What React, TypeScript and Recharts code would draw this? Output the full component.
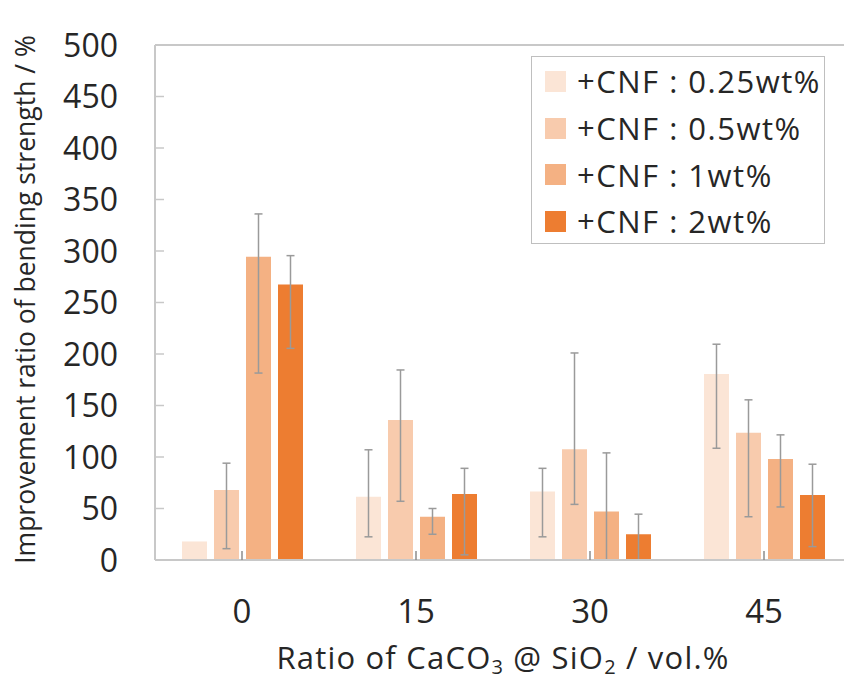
import { BarChart, Bar, XAxis, YAxis, ErrorBar, Legend, ReferenceLine } from 'recharts';

const FONT = '"Open Sans", "Liberation Sans", sans-serif';
const TEXT = '#262626';
const AXIS = '#c8c8c8';

// x categories: ratio of CaCO3@SiO2 (vol.%)
const categories = ['0', '15', '30', '45'];
const seriesNames = ['+CNF : 0.25wt%', '+CNF : 0.5wt%', '+CNF : 1wt%', '+CNF : 2wt%'];
const seriesColors = ['#FBE5D6', '#F8CBAD', '#F4B183', '#ED7D31'];

// bar heights (%)
const cnf025 = [18, 61.5, 66.5, 180.5];
const cnf05 = [68, 136, 107.5, 123.5];
const cnf1 = [294.5, 42, 47, 98];
const cnf2 = [267.5, 64, 25, 63];

// error bar ends (low / high)
const cnf025Low = [null, 22.5, 22.5, 108.5];
const cnf025High = [null, 107, 89, 209.5];
const cnf05Low = [11, 57, 54, 42];
const cnf05High = [94, 184.5, 201, 155.5];
const cnf1Low = [181.5, 25, 0, 51.5];
const cnf1High = [336, 50, 104, 121.5];
const cnf2Low = [205.5, 5, 0, 13];
const cnf2High = [295.5, 89, 44.5, 93];

const yTicks = [0, 50, 100, 150, 200, 250, 300, 350, 400, 450, 500];

const values = [cnf025, cnf05, cnf1, cnf2];
const lows = [cnf025Low, cnf05Low, cnf1Low, cnf2Low];
const highs = [cnf025High, cnf05High, cnf1High, cnf2High];

const data = categories.map((cat, i) => {
  const row: Record<string, any> = { cat };
  values.forEach((s, k) => {
    const v = s[i];
    const lo = lows[k][i];
    const hi = highs[k][i];
    row[`s${k}`] = v;
    row[`e${k}`] = lo == null || hi == null ? null : [v - lo, hi - v];
  });
  return row;
});

const XTick = ({ x, y, payload }: any) => (
  <g>
    <line x1={x} y1={y} x2={x} y2={y - 9} stroke="#8c8c8c" strokeWidth={1.5} />
    <text x={x} y={y + 63} textAnchor="middle" fontSize={33} fill={TEXT} fontFamily={FONT}>
      {payload.value}
    </text>
  </g>
);

const YTick = ({ x, y, payload }: any) => (
  <g>
    <line x1={x} y1={y} x2={x + 9} y2={y} stroke={AXIS} strokeWidth={1.5} />
    <text x={x - 37} y={y} dy="0.36em" textAnchor="end" fontSize={32} fill={TEXT} fontFamily={FONT}>
      {payload.value}
    </text>
  </g>
);

const YTitle = ({ viewBox }: any) => {
  const cy = viewBox.y + viewBox.height / 2 - 3;
  return (
    <text
      x={25}
      y={cy}
      transform={`rotate(-90, 25, ${cy})`}
      textAnchor="middle"
      dominantBaseline="central"
      fontSize={26.5}
      fill={TEXT}
      fontFamily={FONT}
    >
      Improvement ratio of bending strength / %
    </text>
  );
};

const XTitle = ({ viewBox }: any) => {
  const cx = viewBox.x + viewBox.width / 2;
  return (
    <text x={cx} y={669} textAnchor="middle" fontSize={31} letterSpacing={1.2} fill={TEXT} fontFamily={FONT}>
      Ratio of CaCO
      <tspan fontSize={20} dy={5}>3</tspan>
      <tspan dy={-5}> @ SiO</tspan>
      <tspan fontSize={20} dy={5}>2</tspan>
      <tspan dy={-5}> / vol.%</tspan>
    </text>
  );
};

const LegendBox = () => (
  <div
    style={{
      boxSizing: 'border-box',
      width: 294,
      height: 188,
      border: '1.5px solid #bfbfbf',
      background: '#fff',
      padding: '1px 0 0 13px',
      fontFamily: FONT,
      fontSize: 31,
      letterSpacing: 1.5,
      color: TEXT,
    }}
  >
    {seriesNames.map((name, k) => (
      <div key={name} style={{ display: 'flex', alignItems: 'center', height: 46.7 }}>
        <span style={{ width: 21, height: 21, background: seriesColors[k], marginRight: 11 }} />
        <span style={{ whiteSpace: 'nowrap' }}>{name}</span>
      </div>
    ))}
  </div>
);

export default function App() {
  return (
    <div style={{ position: 'fixed', left: 0, top: 0, width: 844, height: 682, overflow: 'hidden', background: '#fff' }}>
      <BarChart
        width={851}
        height={682}
        data={data}
        margin={{ top: 45, right: 0, bottom: 0, left: 0 }}
        barSize={25}
        barGap={7}
      >
        <XAxis
          dataKey="cat"
          height={122}
          axisLine={{ stroke: AXIS, strokeWidth: 2 }}
          tickLine={false}
          tickSize={0}
          tickMargin={0}
          tick={<XTick />}
          label={<XTitle />}
        />
        <YAxis
          width={155}
          domain={[0, 500]}
          ticks={yTicks}
          axisLine={{ stroke: AXIS, strokeWidth: 2 }}
          tickLine={false}
          tickSize={0}
          tickMargin={0}
          tick={<YTick />}
          label={<YTitle />}
        />
        <ReferenceLine y={500} stroke={AXIS} strokeWidth={2} />
        <Legend
          layout="vertical"
          align="center"
          verticalAlign="middle"
          wrapperStyle={{ left: 531, top: 56, width: 294, height: 188 }}
          content={<LegendBox />}
        />
        {values.map((_, k) => (
          <Bar key={k} dataKey={`s${k}`} name={seriesNames[k]} fill={seriesColors[k]} isAnimationActive={false}>
            <ErrorBar dataKey={`e${k}`} width={4} stroke="#9a9a9a" strokeWidth={1.5} direction="y" />
          </Bar>
        ))}
      </BarChart>
    </div>
  );
}
